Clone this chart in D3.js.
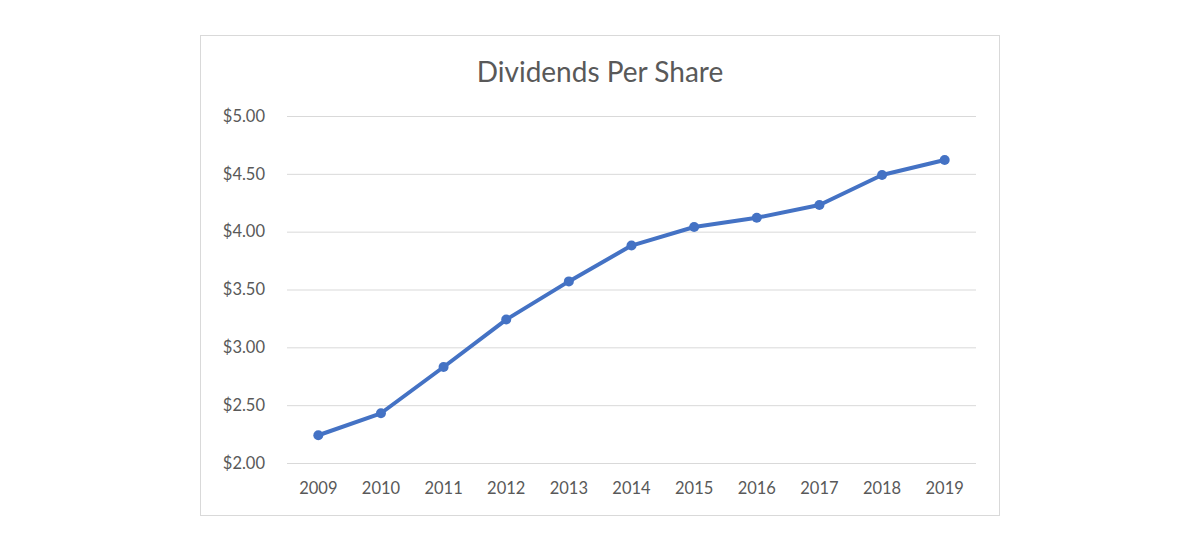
<!DOCTYPE html>
<html>
<head>
<meta charset="utf-8">
<script src="https://cdn.jsdelivr.net/npm/d3@7"></script>
<style>
  body { margin: 0; background: #fff; }
  svg text { font-family: Lato, "Open Sans", sans-serif; fill: #595959; }
</style>
</head>
<body>
<div id="container"></div>
<script>
var years = ["2009", "2010", "2011", "2012", "2013", "2014", "2015", "2016", "2017", "2018", "2019"];
var dividends = [2.24, 2.43, 2.83, 3.24, 3.57, 3.88, 4.04, 4.12, 4.23, 4.49, 4.62];
var yTicks = [2.0, 2.5, 3.0, 3.5, 4.0, 4.5, 5.0];
var title = "Dividends Per Share";

var w = 1200, h = 550;
var plot = { left: 287, right: 976, top: 116, bottom: 463 };

var svg = d3.select("#container")
	.append("svg")
	.attr("width", w)
	.attr("height", h);

//Chart frame
svg.append("rect")
	.attr("x", 200.5)
	.attr("y", 35.5)
	.attr("width", 799)
	.attr("height", 480)
	.attr("fill", "#fff")
	.attr("stroke", "#d9d9d9")
	.attr("stroke-width", 1);

svg.append("text")
	.attr("x", 600)
	.attr("y", 82)
	.attr("text-anchor", "middle")
	.attr("font-size", "28px")
	.text(title);

var x = d3.scaleBand()
	.domain(years)
	.range([plot.left, plot.right]);

var y = d3.scaleLinear()
	.domain([2, 5])
	.range([plot.bottom, plot.top]);

//Gridlines + y labels
var yAxis = d3.axisLeft(y)
	.tickValues(yTicks)
	.tickSize(-(plot.right - plot.left))
	.tickPadding(22)
	.tickFormat(function(d){ return "$" + d.toFixed(2); });

var gy = svg.append("g")
	.attr("transform", "translate(" + plot.left + ",0)")
	.call(yAxis);
gy.select(".domain").remove();
gy.selectAll(".tick line").attr("stroke", "#d9d9d9").attr("stroke-width", 1);
gy.selectAll(".tick text")
	.attr("font-size", "16.5px")
	.style("font-family", "Lato, sans-serif")
	.attr("fill", "#595959");

//x labels
var xAxis = d3.axisBottom(x).tickSize(0).tickPadding(19);
var gx = svg.append("g")
	.attr("transform", "translate(0," + plot.bottom + ")")
	.call(xAxis);
gx.select(".domain").remove();
gx.selectAll(".tick text")
	.attr("font-size", "16.5px")
	.style("font-family", "Lato, sans-serif")
	.attr("fill", "#595959");

var line = d3.line()
	.x(function(d, i){ return x(years[i]) + x.bandwidth() / 2; })
	.y(function(d){ return y(d); });

svg.append("path")
	.datum(dividends)
	.attr("d", line)
	.attr("fill", "none")
	.attr("stroke", "#4472C4")
	.attr("stroke-width", 4)
	.attr("stroke-linejoin", "round")
	.attr("stroke-linecap", "round");

svg.selectAll("circle.pt")
	.data(dividends)
	.enter()
	.append("circle")
	.attr("class", "pt")
	.attr("cx", function(d, i){ return x(years[i]) + x.bandwidth() / 2; })
	.attr("cy", function(d){ return y(d); })
	.attr("r", 5)
	.attr("fill", "#4472C4");
</script>
</body>
</html>
